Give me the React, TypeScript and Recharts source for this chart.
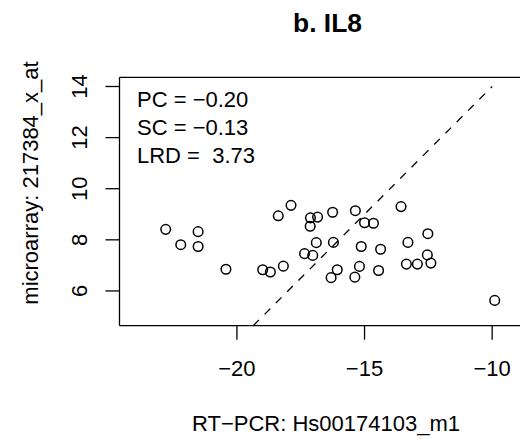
import React from "react";
import {
  ScatterChart,
  Scatter,
  XAxis,
  YAxis,
  ReferenceLine,
  Customized,
} from "recharts";

const rtpcr = [
  -22.79, -22.2, -21.52, -21.52, -20.43, -18.99, -18.69, -18.18, -18.38, -17.88,
  -17.35, -17.03, -17.12, -16.84, -17.13, -16.89, -16.25, -16.22, -16.31, -16.07,
  -15.36, -15.13, -15.2, -15.38, -15.0, -14.65, -14.37, -14.45, -13.57, -13.3,
  -13.36, -12.93, -12.54, -12.52, -12.4, -9.9,
];
const microarray = [
  8.41, 7.81, 8.32, 7.74, 6.85, 6.83, 6.74, 6.97, 8.94, 9.35,
  7.46, 7.39, 8.86, 8.89, 8.53, 7.89, 9.08, 7.9, 6.52, 6.83,
  9.14, 7.74, 6.96, 6.54, 8.67, 8.65, 7.63, 6.8, 9.3, 7.9,
  7.05, 7.05, 7.41, 8.24, 7.09, 5.63,
];
const xTicks = [-20, -15, -10];
const yTicks = [6, 8, 10, 12, 14];
const xDomain = [-24.6, -8.4];
const yDomain = [4.64, 14.36];
const diagonal = [
  { x: -19.36, y: 4.64 },
  { x: -10, y: 14 },
];
const statsLines = ["PC = \u22120.20", "SC = \u22120.13", "LRD =  3.73"];
const title = "b. IL8";
const xLabel = "RT\u2212PCR: Hs00174103_m1";
const yLabel = "microarray: 217384_x_at";

const data = rtpcr.map((x, i) => ({ x, y: microarray[i] }));

const FONT = "'Liberation Sans', Arial, Helvetica, sans-serif";
const fmt = (v: number) => String(v).replace("-", "\u2212");

const XTick = (props: any) => {
  const { x, y, payload } = props;
  return (
    <text x={x} y={y + 34} textAnchor="middle" fontFamily={FONT} fontSize={22} fill="#000">
      {fmt(payload.value)}
    </text>
  );
};

const YTick = (props: any) => {
  const { x, y, payload } = props;
  const tx = x - 16.8;
  return (
    <text
      x={tx}
      y={y}
      textAnchor="middle"
      transform={`rotate(-90, ${tx}, ${y})`}
      fontFamily={FONT}
      fontSize={22}
      fill="#000"
    >
      {fmt(payload.value)}
    </text>
  );
};

const Ring = (props: any) => (
  <circle cx={props.cx} cy={props.cy} r={4.8} fill="none" stroke="#000" strokeWidth={1.5} />
);

const Texts = () => (
  <g fontFamily={FONT} fill="#000">
    <text x={319.5} y={23.7} textAnchor="middle" fontSize={26.4} fontWeight="bold">
      {title}
    </text>
    {statsLines.map((s, i) => (
      <text key={i} x={129} y={98.7 + i * 28.3} fontSize={22} style={{ whiteSpace: "pre" }}>
        {s}
      </text>
    ))}
    <text x={318} y={423} textAnchor="middle" fontSize={22}>
      {xLabel}
    </text>
    <text
      x={30.3}
      y={175}
      textAnchor="middle"
      fontSize={22}
      transform="rotate(-90, 30.3, 175)"
    >
      {yLabel}
    </text>
  </g>
);

export default function App() {
  return (
    <div style={{ width: 520, height: 431, overflow: "hidden", background: "#fff" }}>
      <ScatterChart
        width={540}
        height={431}
        margin={{ top: 69.3, left: 51.5, right: 15, bottom: 53.3 }}
      >
        <XAxis
          type="number"
          dataKey="x"
          domain={xDomain}
          ticks={xTicks}
          allowDataOverflow
          height={60}
          tickSize={14}
          tickMargin={2}
          axisLine={{ stroke: "#000", strokeWidth: 1.3 }}
          tickLine={{ stroke: "#000", strokeWidth: 1.3 }}
          tick={<XTick />}
        />
        <YAxis
          type="number"
          dataKey="y"
          domain={yDomain}
          ticks={yTicks}
          allowDataOverflow
          width={60}
          tickSize={14}
          tickMargin={2}
          axisLine={{ stroke: "#000", strokeWidth: 1.3 }}
          tickLine={{ stroke: "#000", strokeWidth: 1.3 }}
          tick={<YTick />}
        />
        <ReferenceLine y={yDomain[1]} stroke="#000" strokeWidth={1.3} ifOverflow="visible" />
        <ReferenceLine
          segment={diagonal}
          stroke="#000"
          strokeWidth={1.3}
          strokeDasharray="8 8"
          ifOverflow="visible"
        />
        <Scatter data={data} shape={<Ring />} isAnimationActive={false} />
        <Customized component={Texts} />
      </ScatterChart>
    </div>
  );
}
